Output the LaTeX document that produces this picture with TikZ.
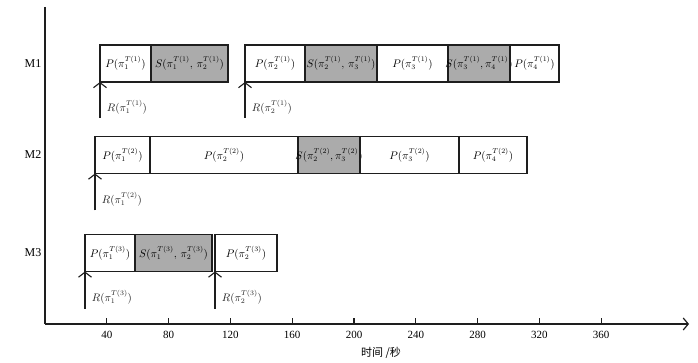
\documentclass[tikz,border=0pt]{standalone}
\usepackage{fontspec}
\setmainfont{Liberation Serif}
\newfontfamily\cjk{Noto Sans CJK SC}
\usetikzlibrary{arrows.meta, positioning}
\definecolor{cshade}{HTML}{ABABAB}
\definecolor{cline}{HTML}{1E1E1E}
% setup label that may run over its box edges
\newcommand{\setuplbl}[1]{\makebox[0pt]{#1}}
\tikzset{
  job/.style={
    draw=cline, line width=1.1pt,
    minimum width=#1, minimum height=37pt,
    inner sep=0pt, outer sep=0pt,
    font=\fontsize{10.5}{12}\selectfont,
  },
  setup/.style={job=#1, fill=cshade},
  rel/.style={
    -{Straight Barb[length=5pt,width=13pt]},
    line width=1.1pt, color=cline,
  },
  rlbl/.style={font=\fontsize{10.5}{12}\selectfont, right=3pt, pos=0.3},
  axis/.style={
    -{Straight Barb[length=5pt,width=12pt]},
    line width=1.2pt, color=cline,
  },
  mlbl/.style={font=\fontsize{12}{14}\selectfont},
  tlbl/.style={font=\fontsize{11}{13}\selectfont},
}

\begin{document}
\begin{tikzpicture}[x=1pt, y=-1pt]
\useasboundingbox (0,0) rectangle (698,363);

%% -- axes ----------------------------------------------------
\coordinate (ytop) at (45,7);
\coordinate (orig) at (45,324);
\coordinate (xend) at (689,324);
\draw[line width=1.2pt, cline] (ytop) -- (orig);
\draw[axis] (orig) -- (xend);

\foreach \t in {40,80,...,360}{
  \draw[line width=1.1pt, cline] ({45+\t*1.545},324) -- ({45+\t*1.545},318);
  \node[tlbl] at ({45+\t*1.545},335) {\t};
}
\node[font=\fontsize{11}{13}\selectfont] (xlabel) at (381,353) {\cjk 时间 /秒};

%% -- machine labels ------------------------------------------
\node[mlbl] (m1) at (33,63.5) {M1};
\node[mlbl] (m2) at (33,155) {M2};
\node[mlbl] (m3) at (33,253) {M3};

%% -- M1 ------------------------------------------------------
\node[job=51pt, anchor=west] (p11) at (100,63.5) {$P(\pi_1^{T(1)})$};
\node[setup=77pt, right=0pt of p11] (s112) {\setuplbl{$S(\pi_1^{T(1)},\,\pi_2^{T(1)})$}};
\node[job=60pt, anchor=west] (p12) at (245,63.5) {$P(\pi_2^{T(1)})$};
\node[setup=72pt, right=0pt of p12] (s123) {\setuplbl{$S(\pi_2^{T(1)},\,\pi_3^{T(1)})$}};
\node[job=71pt, right=0pt of s123] (p13) {$P(\pi_3^{T(1)})$};
\node[setup=62pt, right=0pt of p13] (s134) {\setuplbl{$S(\pi_3^{T(1)},\pi_4^{T(1)})$}};
\node[job=49pt, right=0pt of s134] (p14) {$P(\pi_4^{T(1)})$};

%% -- M2 ------------------------------------------------------
\node[job=55pt, anchor=west] (p21) at (95,155) {$P(\pi_1^{T(2)})$};
\node[job=148pt, right=0pt of p21] (p22) {$P(\pi_2^{T(2)})$};
\node[setup=62pt, right=0pt of p22] (s223) {\setuplbl{$S(\pi_2^{T(2)},\pi_3^{T(2)})$}};
\node[job=99pt, right=0pt of s223] (p23) {$P(\pi_3^{T(2)})$};
\node[job=68pt, right=0pt of p23] (p24) {$P(\pi_4^{T(2)})$};

%% -- M3 ------------------------------------------------------
\node[job=50pt, anchor=west] (p31) at (85,253) {$P(\pi_1^{T(3)})$};
\node[setup=77pt, right=0pt of p31] (s312) {\setuplbl{$S(\pi_1^{T(3)},\,\pi_2^{T(3)})$}};
\node[job=62pt, anchor=west] (p32) at (215,253) {$P(\pi_2^{T(3)})$};

%% -- release arrows ------------------------------------------
\coordinate (r11) at ([yshift=-36pt]p11.south west);
\coordinate (r12) at ([yshift=-36pt]p12.south west);
\coordinate (r21) at ([yshift=-37pt]p21.south west);
\coordinate (r31) at ([yshift=-37pt]p31.south west);
\coordinate (r32) at ([yshift=-37pt]p32.south west);

\draw[rel] (r11) -- node[rlbl] {$R(\pi_1^{T(1)})$} (p11.south west);
\draw[rel] (r12) -- node[rlbl] {$R(\pi_2^{T(1)})$} (p12.south west);
\draw[rel] (r21) -- node[rlbl] {$R(\pi_1^{T(2)})$} (p21.south west);
\draw[rel] (r31) -- node[rlbl] {$R(\pi_1^{T(3)})$} (p31.south west);
\draw[rel] (r32) -- node[rlbl] {$R(\pi_2^{T(3)})$} (p32.south west);

\end{tikzpicture}
\end{document}
